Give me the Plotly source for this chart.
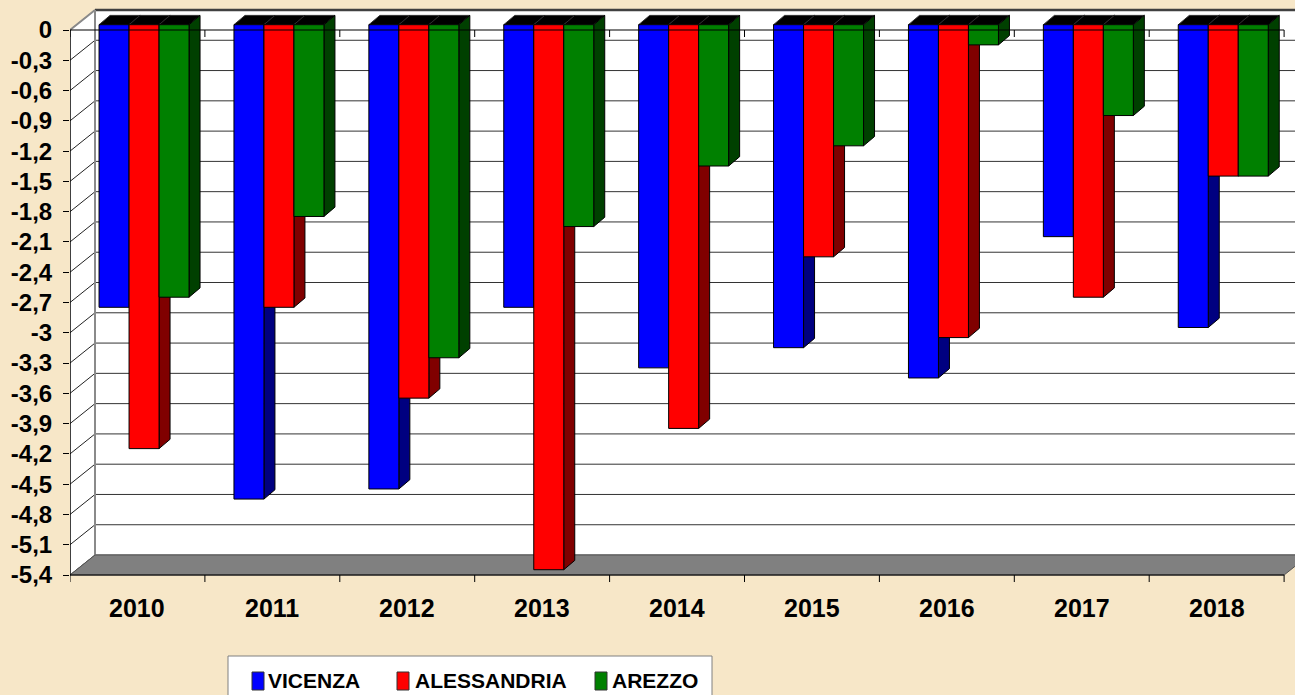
import plotly.graph_objects as go

# ---------------- data ----------------
YEARS = ["2010", "2011", "2012", "2013", "2014", "2015", "2016", "2017", "2018"]
SERIES_NAMES = ["VICENZA", "ALESSANDRIA", "AREZZO"]
VICENZA = [-2.8, -4.7, -4.6, -2.8, -3.4, -3.2, -3.5, -2.1, -3.0]
ALESSANDRIA = [-4.2, -2.8, -3.7, -5.4, -4.0, -2.3, -3.1, -2.7, -1.5]
AREZZO = [-2.7, -1.9, -3.3, -2.0, -1.4, -1.2, -0.2, -0.9, -1.5]
Y_TICKS = [0, -0.3, -0.6, -0.9, -1.2, -1.5, -1.8, -2.1, -2.4, -2.7, -3.0,
           -3.3, -3.6, -3.9, -4.2, -4.5, -4.8, -5.1, -5.4]
Y_TICK_LABELS = ["0", "-0,3", "-0,6", "-0,9", "-1,2", "-1,5", "-1,8", "-2,1",
                 "-2,4", "-2,7", "-3", "-3,3", "-3,6", "-3,9", "-4,2", "-4,5",
                 "-4,8", "-5,1", "-5,4"]

# ---------------- style ----------------
FRONT = ["#0000FF", "#FF0000", "#008000"]
SIDE = ["#000080", "#800000", "#004000"]
TOP = ["#000000", "#000000", "#000000"]
BG = "#F7E7C8"
FONT = "Liberation Sans, Arial, sans-serif"

W_PX, H_PX = 1295, 695
X0_PX, Y0_PX = 70, 30          # front plane origin (category -0.5, value 0)
PX_PER_CAT = 134.9
PX_PER_VAL = 100.93

# 3D offsets in data units
BX, BY = 25 / PX_PER_CAT, 20 / PX_PER_VAL     # back wall depth
FX, FY = 6.6 / PX_PER_CAT, 5.3 / PX_PER_VAL   # bar front plane
DX, DY = 11 / PX_PER_CAT, 9.3 / PX_PER_VAL    # bar depth
GROUP = 0.667
BW = GROUP / 3

ymin = Y_TICKS[-1]
n = len(YEARS)
xl_edge, xr_edge = -0.5, n - 0.5

x_range = [-0.5, -0.5 + (W_PX - X0_PX) / PX_PER_CAT]
y_range = [-(H_PX - Y0_PX) / PX_PER_VAL, Y0_PX / PX_PER_VAL]

fig = go.Figure()

series = [VICENZA, ALESSANDRIA, AREZZO]


def poly_trace(xs, ys, fill, line="#000000"):
    return go.Scatter(x=xs, y=ys, mode="lines", fill="toself", fillcolor=fill,
                      line=dict(color=line, width=1), hoverinfo="skip",
                      showlegend=False)


for s, vals in enumerate(series):
    tx, ty, sx, sy, fxs, fys = [], [], [], [], [], []
    for i, v in enumerate(vals):
        l = i - GROUP / 2 + s * BW + FX
        r = l + BW
        top = FY
        bot = v + FY
        tx += [l, r, r + DX, l + DX, l, None]
        ty += [top, top, top + DY, top + DY, top, None]
        sx += [r, r + DX, r + DX, r, r, None]
        sy += [top, top + DY, bot + DY, bot, top, None]
        fxs += [l, r, r, l, l, None]
        fys += [top, top, bot, bot, top, None]
    fig.add_trace(poly_trace(tx, ty, TOP[s], "#303030"))
    fig.add_trace(poly_trace(sx, sy, SIDE[s]))
    fig.add_trace(poly_trace(fxs, fys, FRONT[s]))

shapes = []
# back wall
shapes.append(dict(type="path", xref="x", yref="y", layer="below",
                   path=f"M{xl_edge+BX},{BY} L{xr_edge+BX},{BY} L{xr_edge+BX},{ymin+BY} L{xl_edge+BX},{ymin+BY} Z",
                   fillcolor="white", line=dict(width=0)))
# left wall
shapes.append(dict(type="path", xref="x", yref="y", layer="below",
                   path=f"M{xl_edge},0 L{xl_edge+BX},{BY} L{xl_edge+BX},{ymin+BY} L{xl_edge},{ymin} Z",
                   fillcolor="white", line=dict(width=0)))
# gridlines
for t in Y_TICKS:
    shapes.append(dict(type="line", xref="x", yref="y", layer="below",
                       x0=xl_edge + BX, y0=t + BY, x1=xr_edge + BX, y1=t + BY,
                       line=dict(color="#333333", width=1)))
    shapes.append(dict(type="line", xref="x", yref="y", layer="below",
                       x0=xl_edge, y0=t, x1=xl_edge + BX, y1=t + BY,
                       line=dict(color="#222222", width=1)))
# back wall edges
shapes.append(dict(type="line", xref="x", yref="y", layer="below",
                   x0=xl_edge + BX, y0=BY, x1=xr_edge + BX, y1=BY,
                   line=dict(color="#404040", width=2.5)))
shapes.append(dict(type="line", xref="x", yref="y", layer="below",
                   x0=xl_edge + BX, y0=BY, x1=xl_edge + BX, y1=ymin + BY,
                   line=dict(color="#8a8a8a", width=2)))
shapes.append(dict(type="line", xref="x", yref="y", layer="below",
                   x0=xl_edge, y0=0, x1=xl_edge + BX, y1=BY,
                   line=dict(color="#8a8a8a", width=2)))
# floor
shapes.append(dict(type="path", xref="x", yref="y", layer="below",
                   path=f"M{xl_edge},{ymin} L{xr_edge},{ymin} L{xr_edge+BX},{ymin+BY} L{xl_edge+BX},{ymin+BY} Z",
                   fillcolor="#808080", line=dict(color="#555555", width=1)))
# front axes (above bars)
shapes.append(dict(type="line", xref="x", yref="y", layer="above",
                   x0=xl_edge, y0=0, x1=xr_edge, y1=0,
                   line=dict(color="#000000", width=1.2)))
shapes.append(dict(type="line", xref="x", yref="y", layer="above",
                   x0=xl_edge, y0=ymin, x1=xr_edge, y1=ymin,
                   line=dict(color="#000000", width=1.2)))
shapes.append(dict(type="line", xref="x", yref="y", layer="above",
                   x0=xl_edge, y0=0, x1=xl_edge, y1=ymin,
                   line=dict(color="#000000", width=1.5)))
tick_len = 7 / PX_PER_VAL
for k in range(n + 1):
    xk = xl_edge + k
    shapes.append(dict(type="line", xref="x", yref="y", layer="above",
                       x0=xk, y0=0, x1=xk, y1=-tick_len,
                       line=dict(color="#000000", width=1)))
    shapes.append(dict(type="line", xref="x", yref="y", layer="above",
                       x0=xk, y0=ymin, x1=xk, y1=ymin - tick_len,
                       line=dict(color="#000000", width=1)))

annotations = []
label_y = -(607.5 - Y0_PX) / PX_PER_VAL
for i, yr in enumerate(YEARS):
    annotations.append(dict(x=i, y=label_y, xref="x", yref="y", text=yr,
                            showarrow=False, xanchor="center", yanchor="middle",
                            font=dict(family=FONT, size=25, color="black", weight="bold")))

# legend (manual); paper coords are relative to the plot area (starts at X0_PX)
def px(x):
    return (x - X0_PX) / (W_PX - X0_PX)


def py(y):
    return 1 - y / H_PX


shapes.append(dict(type="rect", xref="paper", yref="paper", layer="above",
                   x0=px(228), x1=px(712), y0=py(720), y1=py(656),
                   fillcolor="white", line=dict(color="#808080", width=1)))
LEG_SQ_X = [252, 397, 595]
LEG_TX_X = [266, 413, 610]
for s, name in enumerate(SERIES_NAMES):
    shapes.append(dict(type="rect", xref="paper", yref="paper", layer="above",
                       x0=px(LEG_SQ_X[s]), x1=px(LEG_SQ_X[s] + 12),
                       y0=py(690), y1=py(672),
                       fillcolor=FRONT[s], line=dict(color="#333333", width=1)))
    annotations.append(dict(x=px(LEG_TX_X[s]), y=py(680), xref="paper", yref="paper",
                            text=name, showarrow=False, xanchor="left", yanchor="middle",
                            font=dict(family=FONT, size=21, color="black", weight="bold")))

fig.update_layout(
    width=W_PX, height=H_PX,
    margin=dict(l=X0_PX, r=0, t=0, b=0),
    paper_bgcolor=BG, plot_bgcolor="rgba(0,0,0,0)",
    showlegend=False,
    shapes=shapes, annotations=annotations,
    xaxis=dict(range=x_range, showgrid=False, zeroline=False, showline=False,
               showticklabels=False, ticks="", fixedrange=True),
    yaxis=dict(range=y_range, showgrid=False, zeroline=False, showline=False,
               tickvals=Y_TICKS, ticktext=Y_TICK_LABELS, ticks="outside",
               ticklen=6, tickcolor="black", tickwidth=1, ticklabelstandoff=6,
               tickfont=dict(family=FONT, size=24, color="black", weight="bold"),
               fixedrange=True),
)

fig.write_html(
    "out.html",
    config={"displayModeBar": False},
    post_script="document.body.style.margin='0';document.body.style.padding='0';"
                "document.body.style.overflow='hidden';"
                f"document.body.style.background='{BG}';",
)
